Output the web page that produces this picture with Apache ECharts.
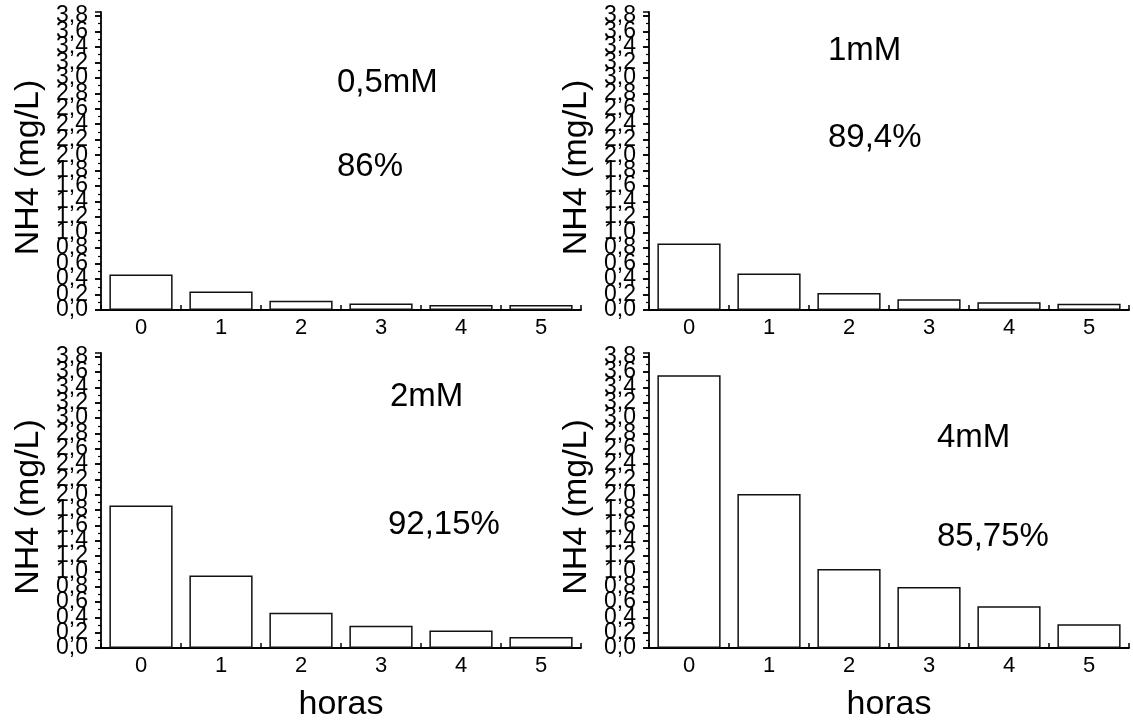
<!DOCTYPE html>
<html>
<head>
<meta charset="utf-8">
<script src="https://cdn.jsdelivr.net/npm/echarts@6/dist/echarts.min.js"></script>
<style>
  html, body { margin: 0; padding: 0; background: #fff; }
  #chart { width: 1133px; height: 723px; }
</style>
</head>
<body>
<div id="chart"></div>
<script>
// ---- data ----
const hours = ['0', '1', '2', '3', '4', '5'];
const nh4_05mM = [0.46, 0.24, 0.12, 0.085, 0.065, 0.065];
const nh4_1mM  = [0.86, 0.47, 0.22, 0.14, 0.10, 0.08];
const nh4_2mM  = [1.86, 0.945, 0.46, 0.29, 0.23, 0.145];
const nh4_4mM  = [3.56, 2.01, 1.03, 0.795, 0.545, 0.31];
const concentrations = ['0,5mM', '1mM', '2mM', '4mM'];
const removals = ['86%', '89,4%', '92,15%', '85,75%'];
const yAxisTitle = 'NH4 (mg/L)';
const xAxisTitle = 'horas';
const yMin = 0, yMax = 3.85, yStep = 0.2;

const FONT = '"Liberation Sans", Arial, sans-serif';
const seriesData = [nh4_05mM, nh4_1mM, nh4_2mM, nh4_4mM];

const grids = [
  { left: 101, top: 12,  width: 480, height: 298 },
  { left: 649, top: 12,  width: 480, height: 298 },
  { left: 101, top: 353, width: 480, height: 298 },
  { left: 649, top: 353, width: 480, height: 298 }
];

function yFmt(v) {
  const k = v / yStep;
  if (Math.abs(k - Math.round(k)) > 1e-6) return '';
  return v.toFixed(1).replace('.', ',');
}
function zeroFmt(v) {
  return Math.abs(v - yMin) < 1e-9 ? yMin.toFixed(1).replace('.', ',') : '';
}

const xAxes = grids.map((g, i) => ({
  type: 'category',
  gridIndex: i,
  data: hours,
  name: i >= 2 ? xAxisTitle : '',
  nameLocation: 'middle',
  nameGap: 40,
  nameTextStyle: { fontSize: 34, color: '#000', fontFamily: FONT },
  axisLine: { lineStyle: { color: '#000', width: 1.8 } },
  axisTick: { show: true, inside: true, length: 5, lineStyle: { color: '#000', width: 1.5 } },
  axisLabel: { fontSize: 22, color: '#000', fontFamily: FONT, margin: 7 },
  splitLine: { show: false }
}));

const baseY = {
  type: 'value',
  min: yMin,
  max: yMax,
  interval: yStep,
  position: 'left',
  splitLine: { show: false },
  minorSplitLine: { show: false }
};

const yAxes = [];
grids.forEach((g, i) => {
  // main axis: line, ticks, labels 0,2 .. 3,8, title
  yAxes.push(Object.assign({}, baseY, {
    gridIndex: i,
    name: yAxisTitle,
    nameLocation: 'middle',
    nameGap: 55,
    nameTextStyle: { fontSize: 34, color: '#000', fontFamily: FONT, padding: [0, 13, 0, 0] },
    axisLine: { show: true, onZero: false, lineStyle: { color: '#000', width: 1.8 } },
    axisTick: { show: true, length: 6, lineStyle: { color: '#000', width: 1.5 } },
    minorTick: { show: true, splitNumber: 2, length: 3, lineStyle: { color: '#000', width: 1.2 } },
    axisLabel: { fontSize: 23, color: '#000', fontFamily: FONT, margin: 13, formatter: yFmt, showMinLabel: false, showMaxLabel: false }
  }));
  // helper axis: draws the 0,0 label and the tick at 0
  yAxes.push(Object.assign({}, baseY, {
    gridIndex: i,
    axisLine: { show: false, onZero: false },
    axisTick: { show: true, length: 6, lineStyle: { color: '#000', width: 1.5 } },
    minorTick: { show: false },
    axisLabel: { fontSize: 23, color: '#000', fontFamily: FONT, margin: 13, formatter: zeroFmt, showMinLabel: true, showMaxLabel: false }
  }));
});

const series = seriesData.map((d, i) => ({
  type: 'bar',
  xAxisIndex: i,
  yAxisIndex: i * 2,
  data: d,
  barCategoryGap: '21%',
  itemStyle: { color: '#fff', borderColor: '#111', borderWidth: 1.5 },
  emphasis: { disabled: true }
}));

const notePos = [
  { c: [337, 83],  r: [337, 167] },
  { c: [828, 51],  r: [828, 138] },
  { c: [390, 397], r: [388, 525] },
  { c: [937, 438], r: [937, 537] }
];

const graphic = [];
notePos.forEach((p, i) => {
  graphic.push({ type: 'text', x: p.c[0], y: p.c[1], style: { text: concentrations[i], font: '33px ' + FONT, fill: '#000', textAlign: 'left', textVerticalAlign: 'middle' } });
  graphic.push({ type: 'text', x: p.r[0], y: p.r[1], style: { text: removals[i], font: '33px ' + FONT, fill: '#000', textAlign: 'left', textVerticalAlign: 'middle' } });
});

const chart = echarts.init(document.getElementById('chart'), null, { renderer: 'canvas' });
chart.setOption({
  animation: false,
  backgroundColor: '#fff',
  grid: grids,
  xAxis: xAxes,
  yAxis: yAxes,
  series: series,
  graphic: graphic
});
</script>
</body>
</html>
